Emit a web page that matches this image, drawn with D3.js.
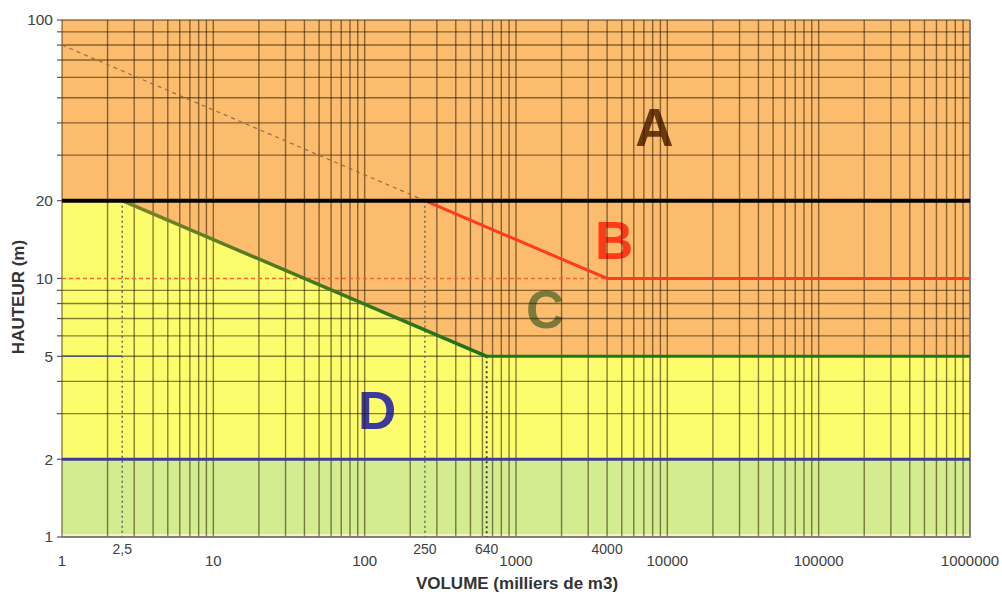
<!DOCTYPE html>
<html>
<head>
<meta charset="utf-8">
<script src="https://cdn.jsdelivr.net/npm/d3@7/dist/d3.min.js"></script>
<style>
  html, body { margin: 0; padding: 0; background: #fff; }
  svg { display: block; font-family: "Liberation Sans", Arial, sans-serif; }
</style>
</head>
<body>
<svg id="chart" width="1002" height="594"></svg>
<script>
// ---- data ----
const xDomain = [1, 1000000];
const yDomain = [1, 100];
const levelA = 20;             // black line
const levelD = 2;              // blue line
const boundaryC = [[1, 20], [2.5, 20], [640, 5], [1000000, 5]];
const boundaryB = [[250, 20], [4000, 10], [1000000, 10]];
const dashedDiag = [[1, 80], [250, 20]];
const dashedTen = [[1, 10], [4000, 10]];
const shortFive = [[1, 5], [2.5, 5]];
const dottedVerticals = [[2.5, 20], [250, 20], [640, 5]]; // [x, top value]
const yTickLabels = [1, 2, 5, 10, 20, 100];
const xMajorLabels = [1, 10, 100, 1000, 10000, 100000, 1000000];
const xSpecialLabels = [2.5, 250, 640, 4000];
const zoneLetters = ["A", "B", "C", "D"];
const zoneAnchors = [[8200, 32.5], [4450, 11.9], [1560, 6.43], [121, 2.62]];

// ---- layout ----
const svg = d3.select("#chart");
const L = 62, R = 970, T = 20, B = 537;
const x = d3.scaleLog().domain(xDomain).range([L, R]);
const y = d3.scaleLog().domain(yDomain).range([B, T]);

const xGrid = [];
for (let k = 0; k < 6; k++) for (let m = 1; m < 10; m++) xGrid.push(m * Math.pow(10, k));
xGrid.push(1000000);
const yGrid = [];
for (let k = 0; k < 2; k++) for (let m = 1; m < 10; m++) yGrid.push(m * Math.pow(10, k));
yGrid.push(100);

const line = d3.line().x(d => x(d[0])).y(d => y(d[1]));

// fills
svg.append("rect").attr("x", L).attr("y", T).attr("width", R - L).attr("height", B - T)
  .attr("fill", "#fbbd6d");
const yellowArea = d3.area().x(d => x(d[0])).y0(y(levelD)).y1(d => y(d[1]));
svg.append("path").datum(boundaryC).attr("d", yellowArea).attr("fill", "#fdfc6c");
svg.append("rect").attr("x", L).attr("y", y(levelD)).attr("width", R - L)
  .attr("height", B - y(levelD)).attr("fill", "#d3ec8f");
svg.append("line").attr("x1", L).attr("x2", R).attr("y1", B - 1.5).attr("y2", B - 1.5)
  .attr("stroke", "#f4f6c0").attr("stroke-width", 3);

// zone letters (under the grid)
const letterColors = ["#6e3a0c", "#ff3a1a", "#7b7a3a", "#3c3a9c"];
svg.append("g").selectAll("text").data(zoneLetters).join("text")
  .attr("x", (d, i) => x(zoneAnchors[i][0]))
  .attr("y", (d, i) => y(zoneAnchors[i][1]))
  .attr("text-anchor", "middle")
  .attr("font-size", 53).attr("font-weight", "bold")
  .attr("fill", (d, i) => letterColors[i])
  .text(d => d);

// grid
const grid = svg.append("g").attr("stroke", "#2a1500").attr("stroke-opacity", 0.55).attr("stroke-width", 1.4);
grid.selectAll(".vx").data(xGrid).join("line")
  .attr("x1", d => x(d)).attr("x2", d => x(d)).attr("y1", T).attr("y2", B);
grid.selectAll(".hy").data(yGrid.filter(v => v !== 10)).join("line")
  .attr("x1", L).attr("x2", R).attr("y1", d => y(d)).attr("y2", d => y(d));

// y tick marks
svg.append("g").attr("stroke", "#555").attr("stroke-width", 1.2)
  .selectAll("line").data(yGrid).join("line")
  .attr("x1", L - 5).attr("x2", L).attr("y1", d => y(d)).attr("y2", d => y(d));

// frame right/bottom
svg.append("path").attr("d", `M${R},${T}V${B}H${L}`).attr("fill", "none")
  .attr("stroke", "#777").attr("stroke-width", 1.5);

// dashed reference lines
svg.append("path").datum(dashedDiag).attr("d", line).attr("fill", "none")
  .attr("stroke", "#9a6a40").attr("stroke-width", 1.2).attr("stroke-dasharray", "4,4");
svg.append("path").datum(dashedTen).attr("d", line).attr("fill", "none")
  .attr("stroke", "#f2662e").attr("stroke-width", 1.3).attr("stroke-dasharray", "4,3");

// dotted verticals
svg.append("g").selectAll("line").data(dottedVerticals).join("line")
  .attr("x1", d => x(d[0])).attr("x2", d => x(d[0]))
  .attr("y1", d => y(d[1])).attr("y2", B)
  .attr("stroke", (d, i) => i === 2 ? "#333" : "#666")
  .attr("stroke-width", (d, i) => i === 2 ? 1.8 : 1.5)
  .attr("stroke-dasharray", "2,3");

// short line at 5
svg.append("path").datum(shortFive).attr("d", line).attr("fill", "none")
  .attr("stroke", "#55557a").attr("stroke-width", 1.5);

// blue line D
svg.append("line").attr("x1", L).attr("x2", R).attr("y1", y(levelD)).attr("y2", y(levelD))
  .attr("stroke", "#3c3c9c").attr("stroke-width", 3);

// C boundary: gradient diagonal
const defs = svg.append("defs");
const grad = defs.append("linearGradient").attr("id", "cgrad")
  .attr("gradientUnits", "userSpaceOnUse")
  .attr("x1", x(boundaryC[1][0])).attr("x2", x(boundaryC[2][0])).attr("y1", 0).attr("y2", 0);
grad.append("stop").attr("offset", "0%").attr("stop-color", "#7a8426");
grad.append("stop").attr("offset", "40%").attr("stop-color", "#4e7a1e");
grad.append("stop").attr("offset", "100%").attr("stop-color", "#1a721a");
svg.append("path").datum(boundaryC.slice(1, 3)).attr("d", line).attr("fill", "none")
  .attr("stroke", "url(#cgrad)").attr("stroke-width", 3.5);
svg.append("path").datum(boundaryC.slice(2)).attr("d", line).attr("fill", "none")
  .attr("stroke", "#1a7a1a").attr("stroke-width", 3);

// B boundary
svg.append("path").datum(boundaryB).attr("d", line).attr("fill", "none")
  .attr("stroke", "#ff3a1e").attr("stroke-width", 3);

// A line (black at 20)
svg.append("line").attr("x1", L).attr("x2", R).attr("y1", y(levelA)).attr("y2", y(levelA))
  .attr("stroke", "#000").attr("stroke-width", 4);

// tick labels
svg.append("g").selectAll("text").data(yTickLabels).join("text")
  .attr("x", L - 9).attr("y", d => y(d)).attr("dy", "0.35em")
  .attr("text-anchor", "end").attr("font-size", 15.5).attr("fill", "#404040")
  .text(d => String(d));
svg.append("g").selectAll("text").data(xMajorLabels).join("text")
  .attr("x", d => x(d)).attr("y", 566)
  .attr("text-anchor", "middle").attr("font-size", 15).attr("fill", "#404040")
  .text(d => String(d));
svg.append("g").selectAll("text").data(xSpecialLabels).join("text")
  .attr("x", d => x(d)).attr("y", 554)
  .attr("text-anchor", "middle").attr("font-size", 14).attr("fill", "#404040")
  .text(d => String(d).replace(".", ","));

// axis titles
svg.append("text").attr("x", 517).attr("y", 589).attr("text-anchor", "middle")
  .attr("font-size", 17).attr("font-weight", "bold").attr("fill", "#333")
  .text("VOLUME (milliers de m3)");
svg.append("text").attr("transform", "translate(24,297) rotate(-90)").attr("text-anchor", "middle")
  .attr("font-size", 17).attr("font-weight", "bold").attr("fill", "#333")
  .text("HAUTEUR (m)");
</script>
</body>
</html>
